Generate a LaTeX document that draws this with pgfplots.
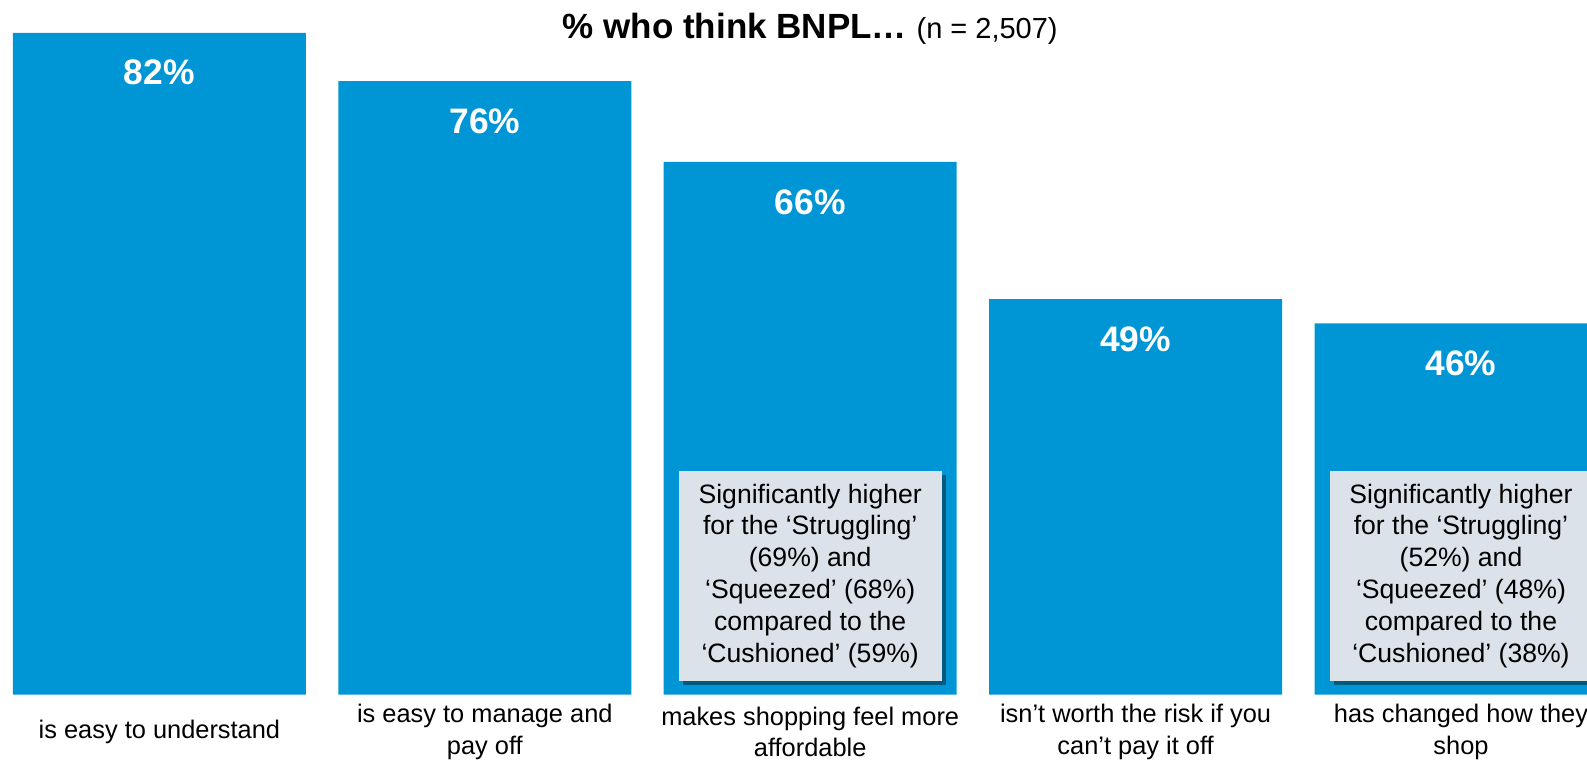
\documentclass[border=0pt]{standalone}
\usepackage{pgfplots}
\pgfplotsset{compat=1.18}
\usepackage{fontspec}
\setmainfont{Liberation Sans}
\usetikzlibrary{shadows}
\definecolor{barblue}{RGB}{0,150,214}
\definecolor{boxgray}{RGB}{220,226,234}
\begin{document}
\begin{tikzpicture}
\useasboundingbox (0,0) rectangle (793.5pt,380.5pt);
\clip (0,0) rectangle (793.5pt,380.5pt);
\begin{axis}[
  at={(0,0)}, anchor=south west,
  scale only axis, width=793.5pt, height=380.5pt,
  hide axis, clip=false,
  xmin=-0.4899, xmax=4.3872, ymin=-8.24, ymax=86.06,
  ybar, bar width=0.9004,
  /pgf/number format/assume math mode=true,
  nodes near coords={\pgfmathprintnumber{\pgfplotspointmeta}\%},
  every node near coord/.append style={anchor=center, yshift=-20pt, text=white, font=\bfseries\fontsize{17.7}{20}\selectfont},
]
\addplot[fill=barblue, draw=none] coordinates {(0,82) (1,76) (2,66) (3,49) (4,46)};

\node[font=\fontsize{17.5}{21}\selectfont, anchor=center] at (axis cs:2,82.43)
  {\textbf{\% who think BNPL…} {\fontsize{14.5}{17}\selectfont(n = 2,507)}};

\tikzset{catlab/.style={align=center, anchor=center, font=\fontsize{12.7}{15.7}\selectfont}}
\node[catlab] at (axis cs:0,-4.65) {is easy to understand};
\node[catlab] at (axis cs:1,-4.65) {is easy to manage and\\pay off};
\node[catlab] at (axis cs:2,-4.65) {makes shopping feel more\\affordable};
\node[catlab] at (axis cs:3,-4.65) {isn’t worth the risk if you\\can’t pay it off};
\node[catlab] at (axis cs:4,-4.65) {has changed how they\\shop};

\tikzset{sigbox/.style={fill=boxgray, draw=none, minimum width=131.5pt, minimum height=105.2pt, inner sep=0pt, align=center, anchor=center,
  drop shadow={shadow xshift=2pt, shadow yshift=-2pt, opacity=0.4, fill=black},
  font=\fontsize{13.3}{15.9}\selectfont}}
\node[sigbox] at (axis cs:2,14.71) {Significantly higher\\for the ‘Struggling’\\(69\%) and\\‘Squeezed’ (68\%)\\compared to the\\‘Cushioned’ (59\%)};
\node[sigbox] at (axis cs:4,14.71) {Significantly higher\\for the ‘Struggling’\\(52\%) and\\‘Squeezed’ (48\%)\\compared to the\\‘Cushioned’ (38\%)};
\end{axis}
\end{tikzpicture}
\end{document}
